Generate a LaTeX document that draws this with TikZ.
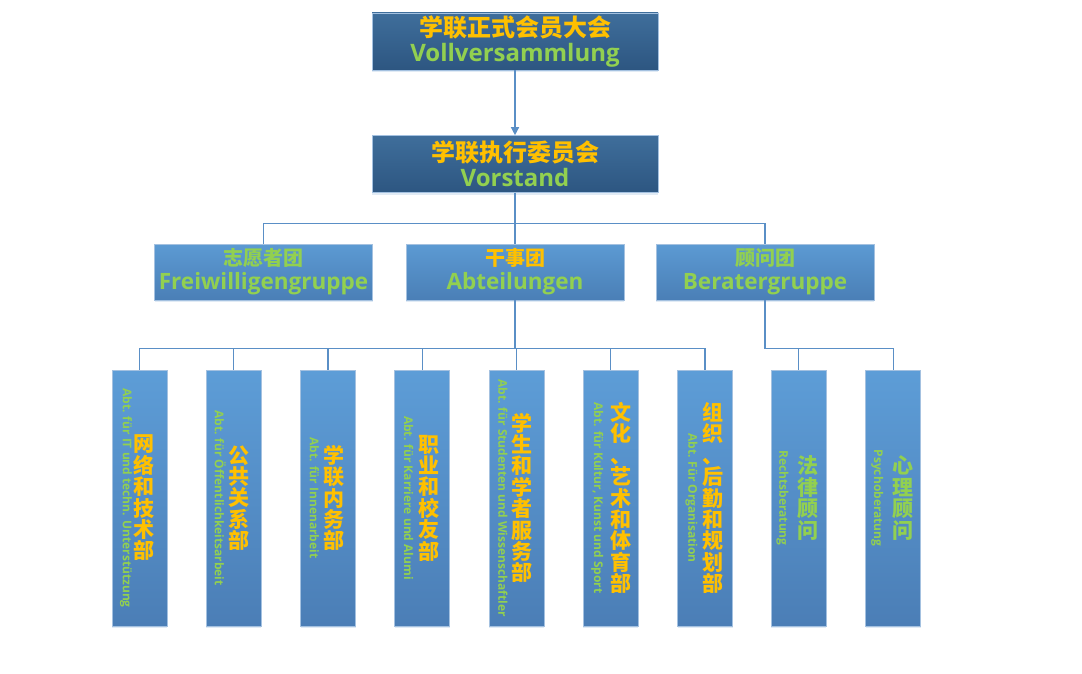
\documentclass[tikz,border=0pt]{standalone}
\usepackage{fontspec}
\setmainfont{Open Sans}
\newfontfamily\cjk{Noto Sans CJK SC}
\usetikzlibrary{arrows.meta, shadows}
\definecolor{cTiefO}{HTML}{3F6E9B}
\definecolor{cTiefU}{HTML}{2D5681}
\definecolor{cMitO}{HTML}{5C9AD3}
\definecolor{cMitU}{HTML}{4A7FB6}
\definecolor{cAbtO}{HTML}{5D9DD7}
\definecolor{cAbtU}{HTML}{4B7EB6}
\definecolor{cLinie}{HTML}{5A8FC6}
\definecolor{cGelb}{HTML}{FFC000}
\definecolor{cGruen}{HTML}{92D050}

\begin{document}
\begin{tikzpicture}[
    x=1pt, y=-1pt,
    box/.style={draw=cLinie!55, line width=0.6pt, inner sep=0pt,
                drop shadow={shadow xshift=0pt, shadow yshift=-2pt,
                             opacity=0.18, fill=cLinie}},
    toplvl/.style={box, top color=cTiefO, bottom color=cTiefU,
                   minimum width=286, minimum height=57, align=center,
                   font=\bfseries\fontsize{24}{25}\selectfont},
    midlvl/.style={box, top color=cMitO, bottom color=cMitU,
                   minimum width=218, minimum height=56, align=center,
                   font=\bfseries\fontsize{22.5}{24}\selectfont},
    dept/.style={box, top color=cAbtO, bottom color=cAbtU,
                 minimum width=55, minimum height=256},
    cnv/.style={font={\cjk\bfseries\fontsize{21}{21.4}\selectfont},
                align=center, inner sep=0pt},
    dev/.style={font=\bfseries\fontsize{12}{14}\selectfont, text=cGruen,
                rotate=-90, inner sep=0pt},
    conn/.style={draw=cLinie, line width=1.3pt},
    pfeil/.style={conn, -{Triangle[length=8pt, width=8pt]}},
]
\useasboundingbox (0,0) rectangle (1082,674);

% ----- Leitung -----
\node[toplvl] (vv) at (515,41.5)
      {{\cjk\color{cGelb}学联正式会员大会}\\{\color{cGruen}Vollversammlung}};
\node[toplvl] (vs) at (515,164)
      {{\cjk\color{cGelb}学联执行委员会}\\{\color{cGruen}Vorstand}};
\draw[pfeil] (vv) -- (vs);

% ----- Gruppen -----
\node[midlvl] (fw) at (263.5,272)
      {{\cjk\fontsize{20}{24}\selectfont\color{cGruen}志愿者团}\\{\color{cGruen}Freiwilligengruppe}};
\node[midlvl] (abt) at (515,272)
      {{\cjk\fontsize{20}{24}\selectfont\color{cGelb}干事团}\\{\color{cGruen}Abteilungen}};
\node[midlvl] (ber) at (765,272)
      {{\cjk\fontsize{20}{24}\selectfont\color{cGruen}顾问团}\\{\color{cGruen}Beratergruppe}};

\draw[conn] (vs.south) -- (abt.north);
\draw[conn] (vs.south) -- ++(0,31) -| (fw.north);
\draw[conn] (vs.south) -- ++(0,31) -| (ber.north);

% ----- Abteilungen: chinesisch senkrecht, deutsch gedreht -----
\foreach \i/\dx/\cn/\de in {
    1/4.5/{网\\络\\和\\技\\术\\部}/{Abt. für IT und techn. Unterstützung},
    2/5.5/{公\\共\\关\\系\\部}/{Abt. für Öffentlichkeitsarbeit},
    3/5.5/{学\\联\\内\\务\\部}/{Abt. für Innenarbeit},
    4/6.5/{职\\业\\和\\校\\友\\部}/{Abt. für Karriere und Alumi},
    5/5.5/{学\\生\\和\\学\\者\\服\\务\\部}/{Abt. für Studenten und Wissenschaftler},
    6/10.5/{文\\化\\、\\艺\\术\\和\\体\\育\\部}/{Abt. für Kultur, Kunst und Sport},
    7/7.5/{组\\织\\、\\后\\勤\\和\\规\\划\\部}/{Abt. Für Organisation}} {
    \pgfmathsetmacro{\x}{139.5+94.25*(\i-1)}
    \node[dept] (d\i) at (\x,498) {};
    \node[cnv, text=cGelb] (d\i-cn) at (\x+\dx,498) {\cn};
    \node[dev] (d\i-de) at (\x-13.5,498) {\de};
    \draw[conn] (abt.south) -- ++(0,48) -| (d\i.north);
}

% ----- Beratung -----
\foreach \i/\cn/\de in {
    1/{法\\律\\顾\\问}/{Rechtsberatung},
    2/{心\\理\\顾\\问}/{Psychoberatung}} {
    \pgfmathsetmacro{\x}{798.5+94.75*(\i-1)}
    \node[dept] (r\i) at (\x,498) {};
    \node[cnv, text=cGruen] (r\i-cn) at (\x+9.5,498) {\cn};
    \node[dev] (r\i-de) at (\x-16,498) {\de};
    \draw[conn] (ber.south) -- ++(0,48) -| (r\i.north);
}

\end{tikzpicture}
\end{document}
